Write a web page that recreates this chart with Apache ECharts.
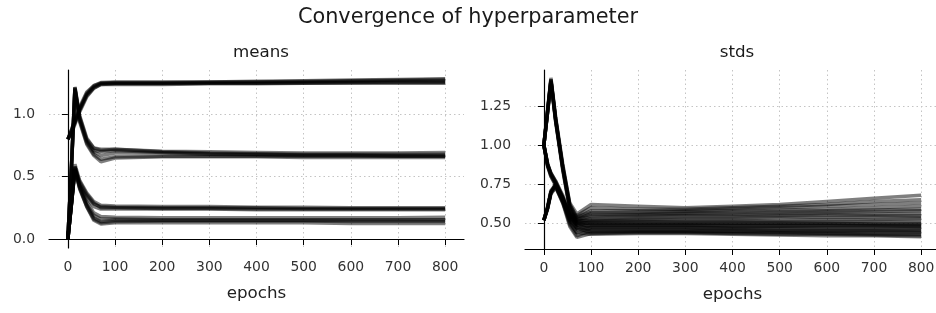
<!DOCTYPE html>
<html>
<head>
<meta charset="utf-8">
<script src="https://cdn.jsdelivr.net/npm/echarts@6/dist/echarts.min.js"></script>
<style>
  html, body { margin: 0; padding: 0; background: #fff; }
  #chart { width: 936px; height: 313px; }
</style>
</head>
<body>
<div id="chart"></div>
<script>
// epochs sampled along every run
var epochs = [0, 8, 15, 25, 40, 55, 70, 100, 200, 300, 400, 500, 600, 700, 800];
var xTicks = [0, 100, 200, 300, 400, 500, 600, 700, 800];
var meanTicks = [0, 0.5, 1.0];
var stdTicks = [0.5, 0.75, 1.0, 1.25];

// means: four parameters, several runs each
var meansA = [
  [0.8, 0.87, 0.94, 1.04, 1.16, 1.22, 1.25, 1.25, 1.25, 1.255, 1.26, 1.26, 1.265, 1.27, 1.27],
  [0.8, 0.86, 0.93, 1.03, 1.15, 1.21, 1.24, 1.245, 1.245, 1.25, 1.25, 1.255, 1.255, 1.26, 1.26],
  [0.8, 0.88, 0.95, 1.05, 1.17, 1.23, 1.255, 1.26, 1.26, 1.26, 1.265, 1.27, 1.275, 1.28, 1.285],
  [0.8, 0.87, 0.94, 1.04, 1.16, 1.22, 1.245, 1.25, 1.25, 1.25, 1.25, 1.25, 1.255, 1.255, 1.255],
  [0.8, 0.85, 0.92, 1.02, 1.14, 1.21, 1.24, 1.24, 1.24, 1.245, 1.245, 1.25, 1.25, 1.25, 1.25],
  [0.8, 0.88, 0.96, 1.06, 1.18, 1.23, 1.25, 1.255, 1.255, 1.26, 1.26, 1.265, 1.27, 1.275, 1.28]
];
var meansB = [
  [0, 0.62, 1.22, 0.98, 0.8, 0.73, 0.71, 0.72, 0.7, 0.69, 0.685, 0.68, 0.68, 0.68, 0.68],
  [0, 0.6, 1.21, 0.97, 0.79, 0.71, 0.7, 0.71, 0.695, 0.685, 0.68, 0.675, 0.675, 0.67, 0.67],
  [0, 0.61, 1.2, 0.95, 0.77, 0.68, 0.64, 0.66, 0.665, 0.665, 0.665, 0.665, 0.665, 0.665, 0.665],
  [0, 0.6, 1.2, 0.94, 0.76, 0.67, 0.62, 0.65, 0.66, 0.66, 0.66, 0.655, 0.655, 0.655, 0.655],
  [0, 0.62, 1.22, 0.99, 0.81, 0.73, 0.72, 0.72, 0.705, 0.7, 0.695, 0.69, 0.69, 0.69, 0.695],
  [0, 0.61, 1.21, 0.96, 0.78, 0.7, 0.67, 0.69, 0.69, 0.68, 0.675, 0.67, 0.67, 0.665, 0.665]
];
var meansC = [
  [0, 0.3, 0.58, 0.45, 0.35, 0.28, 0.26, 0.255, 0.25, 0.25, 0.25, 0.245, 0.245, 0.245, 0.245],
  [0, 0.31, 0.6, 0.47, 0.37, 0.3, 0.27, 0.265, 0.26, 0.26, 0.255, 0.255, 0.25, 0.25, 0.25],
  [0, 0.29, 0.56, 0.43, 0.33, 0.26, 0.24, 0.24, 0.24, 0.24, 0.235, 0.235, 0.235, 0.235, 0.235],
  [0, 0.3, 0.58, 0.46, 0.36, 0.29, 0.25, 0.25, 0.245, 0.245, 0.24, 0.24, 0.24, 0.24, 0.24]
];
var meansD = [
  [0, 0.3, 0.57, 0.42, 0.28, 0.19, 0.16, 0.16, 0.155, 0.155, 0.155, 0.155, 0.155, 0.155, 0.155],
  [0, 0.29, 0.55, 0.4, 0.26, 0.16, 0.13, 0.14, 0.145, 0.145, 0.145, 0.145, 0.14, 0.14, 0.14],
  [0, 0.31, 0.58, 0.43, 0.3, 0.21, 0.18, 0.175, 0.17, 0.17, 0.17, 0.17, 0.17, 0.17, 0.175],
  [0, 0.29, 0.56, 0.41, 0.27, 0.17, 0.14, 0.15, 0.15, 0.15, 0.15, 0.15, 0.15, 0.15, 0.15],
  [0, 0.3, 0.56, 0.41, 0.26, 0.15, 0.12, 0.13, 0.13, 0.13, 0.13, 0.13, 0.125, 0.125, 0.125]
];

// stds: three start patterns, several runs each
var stdsP = [
  [1.0, 1.22, 1.42, 1.17, 0.87, 0.63, 0.56, 0.62, 0.61, 0.6, 0.61, 0.62, 0.64, 0.66, 0.68],
  [1.0, 1.21, 1.41, 1.16, 0.86, 0.62, 0.54, 0.57, 0.57, 0.575, 0.58, 0.585, 0.59, 0.6, 0.61],
  [1.0, 1.23, 1.43, 1.18, 0.88, 0.62, 0.53, 0.54, 0.545, 0.55, 0.55, 0.555, 0.56, 0.56, 0.565],
  [1.0, 1.22, 1.42, 1.16, 0.86, 0.61, 0.52, 0.515, 0.52, 0.52, 0.52, 0.52, 0.525, 0.525, 0.53],
  [1.0, 1.21, 1.4, 1.15, 0.85, 0.6, 0.51, 0.5, 0.5, 0.5, 0.5, 0.5, 0.5, 0.495, 0.495],
  [1.0, 1.22, 1.41, 1.16, 0.85, 0.6, 0.5, 0.48, 0.48, 0.48, 0.48, 0.48, 0.48, 0.48, 0.48],
  [1.0, 1.22, 1.42, 1.17, 0.86, 0.59, 0.49, 0.46, 0.46, 0.46, 0.46, 0.455, 0.455, 0.455, 0.455],
  [1.0, 1.21, 1.41, 1.15, 0.84, 0.58, 0.47, 0.44, 0.445, 0.445, 0.44, 0.44, 0.435, 0.43, 0.43]
];
var stdsQ = [
  [1.0, 0.88, 0.82, 0.77, 0.68, 0.56, 0.55, 0.6, 0.59, 0.59, 0.6, 0.61, 0.62, 0.64, 0.65],
  [1.0, 0.88, 0.82, 0.77, 0.67, 0.55, 0.53, 0.56, 0.56, 0.565, 0.57, 0.575, 0.58, 0.585, 0.59],
  [1.0, 0.87, 0.82, 0.76, 0.67, 0.54, 0.51, 0.53, 0.535, 0.54, 0.54, 0.545, 0.55, 0.55, 0.55],
  [1.0, 0.88, 0.81, 0.76, 0.66, 0.53, 0.49, 0.51, 0.51, 0.51, 0.51, 0.51, 0.51, 0.515, 0.515],
  [1.0, 0.87, 0.81, 0.76, 0.66, 0.52, 0.47, 0.49, 0.49, 0.49, 0.49, 0.49, 0.49, 0.49, 0.49],
  [1.0, 0.87, 0.81, 0.75, 0.65, 0.5, 0.44, 0.475, 0.475, 0.475, 0.47, 0.47, 0.47, 0.47, 0.47],
  [1.0, 0.87, 0.8, 0.75, 0.64, 0.49, 0.42, 0.455, 0.455, 0.455, 0.45, 0.45, 0.45, 0.45, 0.445],
  [1.0, 0.86, 0.8, 0.74, 0.63, 0.48, 0.41, 0.435, 0.44, 0.44, 0.435, 0.43, 0.43, 0.425, 0.42]
];
var stdsR = [
  [0.52, 0.6, 0.7, 0.75, 0.66, 0.56, 0.54, 0.58, 0.58, 0.58, 0.59, 0.6, 0.61, 0.62, 0.63],
  [0.52, 0.6, 0.7, 0.75, 0.66, 0.55, 0.52, 0.55, 0.555, 0.56, 0.56, 0.565, 0.57, 0.575, 0.58],
  [0.52, 0.6, 0.7, 0.74, 0.65, 0.55, 0.51, 0.52, 0.525, 0.53, 0.53, 0.535, 0.535, 0.54, 0.54],
  [0.52, 0.61, 0.71, 0.75, 0.66, 0.54, 0.5, 0.5, 0.5, 0.5, 0.5, 0.5, 0.5, 0.5, 0.5],
  [0.52, 0.6, 0.7, 0.74, 0.65, 0.54, 0.49, 0.49, 0.49, 0.49, 0.485, 0.485, 0.485, 0.485, 0.48],
  [0.52, 0.6, 0.7, 0.74, 0.64, 0.53, 0.47, 0.47, 0.47, 0.47, 0.465, 0.465, 0.46, 0.46, 0.46],
  [0.52, 0.6, 0.69, 0.73, 0.64, 0.52, 0.46, 0.45, 0.45, 0.45, 0.45, 0.445, 0.44, 0.44, 0.44],
  [0.52, 0.59, 0.69, 0.73, 0.63, 0.51, 0.44, 0.43, 0.435, 0.435, 0.43, 0.425, 0.42, 0.42, 0.415]
];

var font = 'DejaVu Sans';
var chart = echarts.init(document.getElementById('chart'));

function makeSeries(runs, axisIndex, out) {
  for (var i = 0; i < runs.length; i++) {
    var pts = [];
    for (var j = 0; j < epochs.length; j++) {
      pts.push([epochs[j], runs[i][j]]);
    }
    out.push({
      type: 'line',
      xAxisIndex: axisIndex,
      yAxisIndex: axisIndex,
      data: pts,
      showSymbol: false,
      silent: true,
      animation: false,
      lineStyle: { color: '#000', width: 3.5, opacity: 0.5 }
    });
  }
}

var series = [];
makeSeries(meansA, 0, series);
makeSeries(meansB, 0, series);
makeSeries(meansC, 0, series);
makeSeries(meansD, 0, series);
makeSeries(stdsP, 1, series);
makeSeries(stdsQ, 1, series);
makeSeries(stdsR, 1, series);

var gridLine = { show: true, lineStyle: { color: '#c4c4c4', type: [1.5, 3], width: 1 } };

function xAxis(gridIndex) {
  return {
    type: 'value',
    gridIndex: gridIndex,
    min: -40,
    max: 840,
    name: 'epochs',
    nameLocation: 'middle',
    nameGap: 37,
    nameTextStyle: { fontFamily: font, fontSize: 16.7, color: '#222' },
    axisLine: { lineStyle: { color: '#000', width: 1.2 } },
    axisTick: { length: 6, customValues: xTicks, lineStyle: { color: '#000' } },
    axisLabel: { customValues: xTicks, margin: 12, fontFamily: font, fontSize: 13.9, color: '#333' },
    splitLine: gridLine
  };
}

function yAxis(gridIndex, min, max, ticks, digits) {
  return {
    type: 'value',
    gridIndex: gridIndex,
    min: min,
    max: max,
    axisLine: { show: true, lineStyle: { color: '#000', width: 1.2 } },
    axisTick: { show: true, length: 6, customValues: ticks, lineStyle: { color: '#000' } },
    axisLabel: {
      customValues: ticks,
      margin: 14,
      fontFamily: font,
      fontSize: 13.9,
      color: '#333',
      formatter: function (v) { return v.toFixed(digits); }
    },
    splitLine: gridLine
  };
}

var option = {
  backgroundColor: '#fff',
  animation: false,
  title: [
    { text: 'Convergence of hyperparameter', left: 'center', top: 2,
      textStyle: { fontFamily: font, fontSize: 20.8, fontWeight: 'normal', color: '#1a1a1a' } },
    { text: 'means', left: 256, top: 39, textAlign: 'center',
      textStyle: { fontFamily: font, fontSize: 16.7, fontWeight: 'normal', color: '#1a1a1a' } },
    { text: 'stds', left: 732, top: 39, textAlign: 'center',
      textStyle: { fontFamily: font, fontSize: 16.7, fontWeight: 'normal', color: '#1a1a1a' } }
  ],
  grid: [
    { left: 49, top: 70, width: 415, height: 178, outerBoundsMode: 'none' },
    { left: 525, top: 70, width: 415, height: 179, outerBoundsMode: 'none' }
  ],
  xAxis: [xAxis(0), xAxis(1)],
  yAxis: [
    yAxis(0, -0.072, 1.356, meanTicks, 1),
    yAxis(1, 0.336, 1.48, stdTicks, 2)
  ],
  series: series
};

chart.setOption(option);
</script>
</body>
</html>
